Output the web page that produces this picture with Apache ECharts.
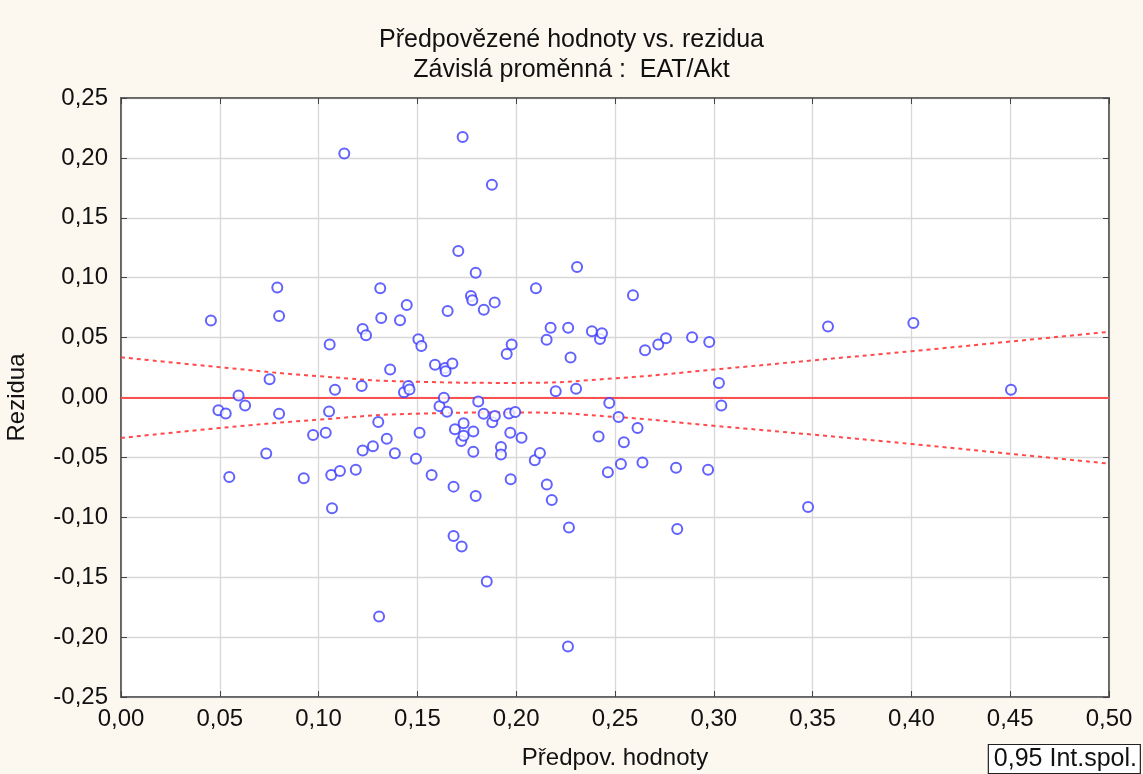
<!DOCTYPE html>
<html><head><meta charset="utf-8">
<script src="https://cdn.jsdelivr.net/npm/echarts@6/dist/echarts.min.js"></script>
<style>html,body{margin:0;padding:0;background:#fcf8ef;}#c{width:1143px;height:774px;}</style>
</head><body><div id="c"></div>
<script>
const predicted = [0.0455,0.0493,0.053,0.0548,0.0595,0.0628,0.0735,0.0752,0.0791,0.080,0.080,0.0925,0.0972,0.1036,0.1053,0.1056,0.1064,0.1068,0.1083,0.1108,0.113,0.1188,
0.1218,0.1223,0.124,0.1223,0.1275,0.1302,0.1306,0.1312,0.1317,0.1345,0.1362,0.1386,0.1412,0.1432,0.1446,0.1454,0.1460,0.1493,0.1505,0.1511,0.152,0.1572,0.1589,
0.1612,0.1634,0.164,0.1643,0.1650,0.1653,0.1677,0.1683,0.1683,0.169,0.1707,0.1722,0.1724,0.1729,0.1734,0.1734,0.1771,0.1778,0.1783,0.1783,0.1795,0.1795,0.1808,0.1835,0.1836,0.1851,0.1877,0.1879,0.1891,0.1892,0.1923,0.1923,0.1952,0.1964,0.1970,0.1972,0.1977,0.1995,
0.2027,0.2094,0.21,0.212,0.2154,0.2155,0.2174,0.2180,0.2200,0.2263,0.2262,0.2267,0.2275,0.2303,0.2308,0.2383,0.2417,0.2424,0.2434,0.2464,0.2471,
0.2518,0.253,0.2545,0.2591,0.2614,0.2639,0.2652,0.2719,0.2758,0.2809,0.2815,0.2890,0.2971,0.2977,0.3026,0.3038,0.3477,0.3578,0.401,0.4504];
const residuals = [0.0642,-0.0106,-0.0133,-0.0664,0.0017,-0.0067,-0.0467,0.0153,0.0919,0.068,-0.0136,-0.0675,-0.0314,-0.0294,-0.0117,0.0442,-0.0647,-0.0925,0.0064,-0.0614,0.2036,-0.0603,
0.0096,0.0572,0.0519,-0.0442,-0.0406,-0.0205,-0.1828,0.0911,0.0664,-0.0345,0.0233,-0.0465,0.0644,0.0044,0.0772,0.0097,0.0067,-0.0512,0.0486,-0.0294,0.043,-0.0647,0.0274,
-0.0072,-0.0003,0.0247,0.0219,-0.0118,0.0722,0.0283,-0.0744,-0.1156,-0.0265,0.1222,-0.0364,-0.1244,0.2175,-0.0214,-0.0319,0.0847,0.0811,-0.0284,-0.0453,0.1042,-0.0822,-0.0034,-0.0136,0.0733,-0.1536,0.1775,-0.0206,0.0794,-0.0155,-0.0414,-0.0475,0.0363,-0.0134,-0.0294,-0.0683,0.0442,-0.0122,
-0.0336,-0.0523,0.0911,-0.0464,0.0483,-0.0727,0.0582,-0.0855,0.0053,0.0582,-0.2078,-0.1086,0.0334,0.0074,0.1089,0.0553,-0.0325,0.0489,0.0537,-0.0623,-0.0046,
-0.0162,-0.0555,-0.0374,0.0853,-0.0255,-0.0542,0.0394,0.0442,0.0494,-0.0586,-0.1097,0.0503,-0.0603,0.0464,0.0122,-0.0067,-0.0914,0.0592,0.0622,0.0064];
const bandX = [0,0.05,0.10,0.15,0.20,0.25,0.30,0.35,0.40,0.45,0.50];
const bandUpper = [0.0336,0.0253,0.0178,0.0131,0.0122,0.0160,0.0233,0.0310,0.0386,0.0467,0.0548];
const bandLower = [-0.0338,-0.0255,-0.0185,-0.0135,-0.0125,-0.0162,-0.0236,-0.0310,-0.0388,-0.0470,-0.0552];
const xTicks = [0,0.05,0.10,0.15,0.20,0.25,0.30,0.35,0.40,0.45,0.50];
const yTicks = [-0.25,-0.20,-0.15,-0.10,-0.05,0,0.05,0.10,0.15,0.20,0.25];
const titleText = 'Předpovězené hodnoty vs. rezidua';
const subtitleText = 'Závislá proměnná :  EAT/Akt';
const xName = 'Předpov. hodnoty';
const yName = 'Rezidua';
const ciLabel = '0,95 Int.spol.';

const fmt = v => v.toFixed(2).replace('.', ',');
const font = 'Liberation Sans, Arial, sans-serif';
const chart = echarts.init(document.getElementById('c'));
const points = predicted.map((x, i) => [x, residuals[i]]);
const upper = bandX.map((x, i) => [x, bandUpper[i]]);
const lower = bandX.map((x, i) => [x, bandLower[i]]);
const axCommon = {min: yTicks[0], max: yTicks[yTicks.length - 1], interval: 0.05};
const xCommon = {min: xTicks[0], max: xTicks[xTicks.length - 1], interval: 0.05};
chart.setOption({
  backgroundColor: '#fcf8ef',
  animation: false,
  title: [
    {text: titleText, left: 'center', top: 23, textStyle: {fontFamily: font, fontSize: 25, fontWeight: 'normal', color: '#111'}},
    {text: subtitleText, left: 'center', top: 53, textStyle: {fontFamily: font, fontSize: 25, fontWeight: 'normal', color: '#111'}},
    {text: ciLabel, right: 2, bottom: 0, padding: [3, 4, 2, 6], borderWidth: 1.2, borderColor: '#222', backgroundColor: '#fff', textStyle: {fontFamily: font, fontSize: 25, fontWeight: 'normal', color: '#111'}}
  ],
  grid: {left: 121, right: 34, top: 98, bottom: 77, show: true, backgroundColor: '#ffffff', borderColor: '#555', borderWidth: 1.5, containLabel: false, outerBoundsMode: 'none'},
  xAxis: [
    Object.assign({type: 'value', position: 'bottom',
     name: xName, nameLocation: 'middle', nameGap: 49,
     nameTextStyle: {fontFamily: font, fontSize: 24, color: '#111'},
     axisLine: {show: true, onZero: false, lineStyle: {color: '#555', width: 1.5}},
     axisTick: {show: true, inside: true, length: 6, lineStyle: {color: '#444'}},
     axisLabel: {formatter: fmt, fontFamily: font, fontSize: 24, color: '#111', margin: 10},
     splitLine: {show: true, lineStyle: {color: '#d8d8d8', width: 1.3}}}, xCommon),
    Object.assign({type: 'value', position: 'top',
     axisLine: {show: true, onZero: false, lineStyle: {color: '#555', width: 1.5}},
     axisTick: {show: true, inside: true, length: 6, lineStyle: {color: '#444'}},
     axisLabel: {show: false}, splitLine: {show: false}}, xCommon)
  ],
  yAxis: [
    Object.assign({type: 'value', position: 'left',
     name: yName, nameLocation: 'middle', nameGap: 92, nameRotate: 90,
     nameTextStyle: {fontFamily: font, fontSize: 24, color: '#111'},
     axisLine: {show: true, onZero: false, lineStyle: {color: '#555', width: 1.5}},
     axisTick: {show: true, inside: true, length: 6, lineStyle: {color: '#444'}},
     axisLabel: {formatter: fmt, fontFamily: font, fontSize: 24, color: '#111', margin: 13},
     splitLine: {show: true, lineStyle: {color: '#d8d8d8', width: 1.3}}}, axCommon),
    Object.assign({type: 'value', position: 'right',
     axisLine: {show: true, onZero: false, lineStyle: {color: '#555', width: 1.5}},
     axisTick: {show: true, inside: true, length: 6, lineStyle: {color: '#444'}},
     axisLabel: {show: false}, splitLine: {show: false}}, axCommon)
  ],
  series: [
    {type: 'line', data: upper, smooth: true, symbol: 'none', silent: true,
     lineStyle: {color: '#ff4a4a', width: 2, type: [4, 4]}, z: 3},
    {type: 'line', data: lower, smooth: true, symbol: 'none', silent: true,
     lineStyle: {color: '#ff4a4a', width: 2, type: [4, 4]}, z: 3,
     markLine: {silent: true, symbol: 'none', label: {show: false},
       lineStyle: {color: '#ff5050', width: 2, type: 'solid'}, data: [{yAxis: 0}]}},
    {type: 'scatter', data: points, symbol: 'emptyCircle', symbolSize: 10,
     itemStyle: {color: '#3b3bff', borderColor: '#3b3bff', borderWidth: 1.6}, z: 5}
  ]
});
</script></body></html>
